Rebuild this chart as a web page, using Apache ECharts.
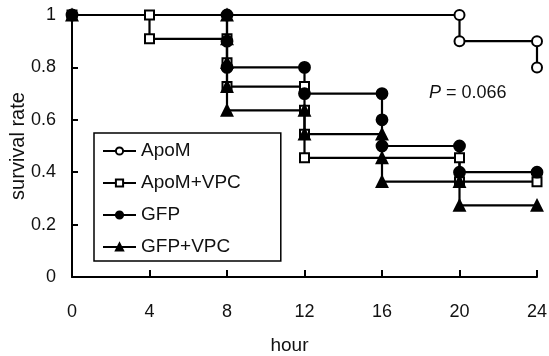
<!DOCTYPE html>
<html>
<head>
<meta charset="utf-8">
<script src="https://cdn.jsdelivr.net/npm/echarts@6/dist/echarts.min.js"></script>
<style>html,body{margin:0;padding:0;background:#fff}#c{width:549px;height:356px}</style>
</head>
<body>
<div id="c"></div>
<script>
// Step-curve vertices (hour, survival rate)
const apomHours = [0, 20, 20, 24, 24];
const apomSurv  = [1, 1, 0.9, 0.9, 0.8];

const apomVpcHours = [0, 4, 4, 8, 8, 8, 12, 12, 12, 12, 20, 20, 24];
const apomVpcSurv  = [1, 1, 0.909, 0.909, 0.818, 0.727, 0.727, 0.636, 0.545, 0.455, 0.455, 0.364, 0.364];

const gfpHours = [0, 8, 8, 8, 12, 12, 16, 16, 16, 20, 20, 24];
const gfpSurv  = [1, 1, 0.9, 0.8, 0.8, 0.7, 0.7, 0.6, 0.5, 0.5, 0.4, 0.4];

const gfpVpcHours = [0, 8, 8, 8, 8, 8, 12, 12, 16, 16, 16, 20, 20, 24];
const gfpVpcSurv  = [1, 1, 0.909, 0.818, 0.727, 0.636, 0.636, 0.545, 0.545, 0.455, 0.364, 0.364, 0.273, 0.273];

const seriesNames = ['ApoM', 'ApoM+VPC', 'GFP', 'GFP+VPC'];
const xTicks = [0, 4, 8, 12, 16, 20, 24];
const pText = '0.066';

const FONT = '"Liberation Sans", Arial, sans-serif';
const pair = (xs, ys) => xs.map((x, i) => [x, ys[i]]);

function mk(name, xs, ys, symbol, size) {
  return {
    name: name,
    type: 'line',
    data: pair(xs, ys),
    symbol: symbol,
    symbolSize: size,
    showAllSymbol: true,
    lineStyle: { color: '#000', width: 2.2 },
    itemStyle: { color: '#000', borderColor: '#000', borderWidth: 1.8 },
    emphasis: { disabled: true },
    animation: false
  };
}

const chart = echarts.init(document.getElementById('c'));
chart.setOption({
  animation: false,
  grid: { left: 72, right: 12, top: 15, bottom: 79, containLabel: false, outerBoundsMode: 'none' },
  xAxis: {
    type: 'value', min: 0, max: 24, interval: 4,
    name: 'hour', nameLocation: 'middle', nameGap: 59, nameMoveOverlap: false,
    nameTextStyle: { fontFamily: FONT, fontSize: 19, color: '#111', padding: [0, 30, 0, 0] },
    axisLine: { show: true, lineStyle: { color: '#000', width: 2 } },
    axisTick: { show: true, inside: true, length: 7, lineStyle: { color: '#000', width: 2 } },
    axisLabel: { fontFamily: FONT, fontSize: 18, color: '#111', margin: 26,
      formatter: v => xTicks.includes(v) ? String(v) : '' },
    splitLine: { show: false }
  },
  yAxis: {
    type: 'value', min: 0, max: 1, interval: 0.2,
    name: 'survival rate', nameLocation: 'middle', nameGap: 44, nameRotate: 90, nameMoveOverlap: false,
    nameTextStyle: { fontFamily: FONT, fontSize: 20, color: '#111' },
    axisLine: { show: true, lineStyle: { color: '#000', width: 2 } },
    axisTick: { show: true, inside: true, length: 6, lineStyle: { color: '#000', width: 2 } },
    axisLabel: { fontFamily: FONT, fontSize: 18, color: '#111', margin: 16 },
    splitLine: { show: false }
  },
  legend: {
    orient: 'vertical', left: 94, top: 133,
    data: seriesNames,
    itemWidth: 33, itemHeight: 9, itemGap: 12,
    padding: [8, 40, 4, 8],
    borderColor: '#000', borderWidth: 1.5,
    textStyle: { fontFamily: FONT, fontSize: 19, color: '#111', lineHeight: 20 },
    selectedMode: false
  },
  graphic: [{
    type: 'text', left: 429, top: 84,
    style: {
      text: '{i|P} = ' + pText,
      fontFamily: FONT, fontSize: 18, fill: '#111',
      rich: { i: { fontStyle: 'italic', fontFamily: FONT, fontSize: 18, fill: '#111' } }
    }
  }],
  series: [
    mk(seriesNames[0], apomHours, apomSurv, 'emptyCircle', 10),
    mk(seriesNames[1], apomVpcHours, apomVpcSurv, 'emptyRect', 9),
    mk(seriesNames[2], gfpHours, gfpSurv, 'circle', 11),
    mk(seriesNames[3], gfpVpcHours, gfpVpcSurv, 'triangle', 11)
  ]
});
</script>
</body>
</html>
